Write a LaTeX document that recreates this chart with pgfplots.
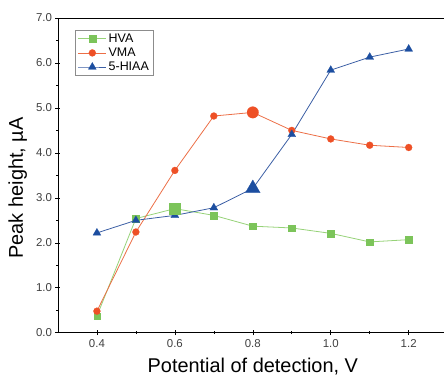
\documentclass[border=0pt]{standalone}
\usepackage{pgfplots}
\pgfplotsset{compat=1.18}
\usepackage{fontspec}
\setmainfont{Liberation Sans}

\definecolor{hva}{RGB}{124,196,90}
\definecolor{hvaline}{RGB}{150,210,120}
\definecolor{vma}{RGB}{238,80,38}
\definecolor{vmaline}{RGB}{236,110,70}
\definecolor{hiaa}{RGB}{28,78,160}
\definecolor{hiaaline}{RGB}{60,95,165}

\begin{document}
\begin{tikzpicture}
\begin{axis}[
  scale only axis,
  width=390bp, height=315bp,
  xmin=0.3, xmax=1.3,
  ymin=0, ymax=7,
  xtick={0.4,0.6,...,1.2},
  ytick={0,1,...,7},
  minor x tick num=1,
  minor y tick num=1,
  tick label style={/pgf/number format/fixed, /pgf/number format/fixed zerofill,
    /pgf/number format/precision=1, font=\fontsize{11.5}{13}\selectfont, text=black!75},
  /pgf/number format/assume math mode=true,
  xticklabel style={yshift=-1bp},
  tick align=center,
  major tick length=5bp,
  minor tick length=3bp,
  tick style={black, line width=0.6pt},
  xtick pos=bottom, ytick pos=left,
  axis line style={line width=0.8pt},
  xlabel={Potential of detection, V},
  ylabel={Peak height, µA},
  every axis x label/.style={at={(axis description cs:0.5,0)}, anchor=base, yshift=-40bp, font=\fontsize{20}{24}\selectfont},
  every axis y label/.style={at={(axis description cs:-0.103,0.46)}, rotate=90, anchor=center, font=\fontsize{20}{24}\selectfont},
  legend cell align=left,
  legend style={at={(axis description cs:0,1)}, anchor=north west, xshift=16.7bp, yshift=-12bp,
    draw=black!45, line width=0.6pt, font=\fontsize{12.5}{14}\selectfont,
    inner xsep=3bp, inner ysep=2.5bp, row sep=2bp,
    nodes={inner ysep=0.3bp, text height=9bp, text depth=2.5bp}},
  legend image code/.code={
    \draw[mark repeat=2, mark phase=2] plot coordinates {(0bp,0bp) (14bp,0bp) (28bp,0bp)};
  },
]
\addplot[hvaline, line width=0.8pt, mark=square*, mark size=3.3bp, mark options={draw=hva, fill=hva, line width=0.2pt}]
  coordinates {(0.4,0.37) (0.5,2.54) (0.6,2.76) (0.7,2.61) (0.8,2.37) (0.9,2.33) (1.0,2.21) (1.1,2.02) (1.2,2.07)};
\addlegendentry{HVA}
\addplot[vmaline, line width=0.8pt, mark=*, mark size=3.5bp, mark options={draw=vma, fill=vma, line width=0.2pt}]
  coordinates {(0.4,0.48) (0.5,2.24) (0.6,3.61) (0.7,4.82) (0.8,4.90) (0.9,4.50) (1.0,4.31) (1.1,4.17) (1.2,4.12)};
\addlegendentry{VMA}
\addplot[hiaaline, line width=0.8pt, mark=triangle*, mark size=4.6bp, mark options={draw=hiaa, fill=hiaa, line width=0.2pt}]
  coordinates {(0.4,2.22) (0.5,2.50) (0.6,2.61) (0.7,2.78) (0.8,3.21) (0.9,4.41) (1.0,5.84) (1.1,6.13) (1.2,6.31)};
\addlegendentry{5-HIAA}
% enlarged markers at the optimum potentials
\addplot[only marks, color=hva, mark=square*, mark size=5.5bp, mark options={draw=hva, fill=hva, line width=0.2pt}, forget plot] coordinates {(0.6,2.76)};
\addplot[only marks, color=vma, mark=*, mark size=5.8bp, mark options={draw=vma, fill=vma, line width=0.2pt}, forget plot] coordinates {(0.8,4.90)};
\addplot[only marks, color=hiaa, mark=triangle*, mark size=8.5bp, mark options={draw=hiaa, fill=hiaa, line width=0.2pt}, forget plot] coordinates {(0.8,3.21)};
\coordinate (bbsw) at (axis cs:0.1513,-1.0);
\coordinate (bbne) at (axis cs:1.2906,7.4);
\end{axis}
\pgfresetboundingbox
\path[use as bounding box] (bbsw) rectangle (bbne);
\end{tikzpicture}
\end{document}
